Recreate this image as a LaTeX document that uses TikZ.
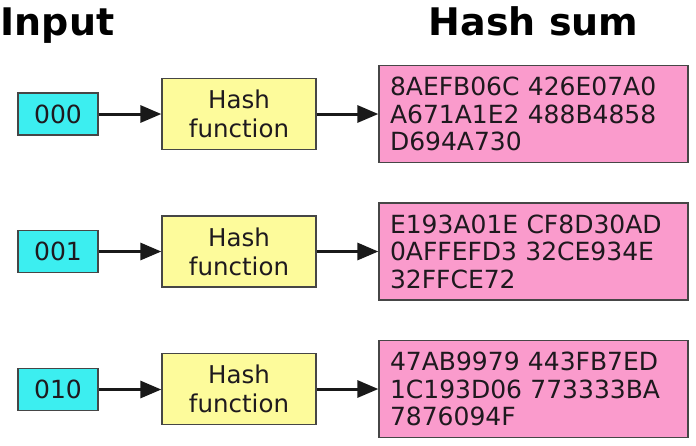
\documentclass[tikz,border=0pt]{standalone}
\usepackage{fontspec}
\setmainfont{DejaVu Sans}
\usetikzlibrary{arrows.meta}
\definecolor{incol}{RGB}{60,238,240}
\definecolor{fncol}{RGB}{253,251,155}
\definecolor{sumcol}{RGB}{250,155,204}
\definecolor{edgecol}{RGB}{70,70,70}
\definecolor{txtcol}{RGB}{30,25,30}
\tikzset{
  box/.style={draw=edgecol, line width=1.3pt, text=txtcol, inner sep=0pt},
  inbox/.style={box, fill=incol, minimum width=80pt, minimum height=42pt,
    font=\fontsize{25}{27.5}\selectfont},
  fnbox/.style={box, fill=fncol, minimum width=154pt, minimum height=71pt,
    align=center, font=\fontsize{24.5}{29}\selectfont},
  sumbox/.style={box, fill=sumcol, minimum width=309pt, minimum height=97pt,
    text width=287pt, align=left, inner xsep=11pt,
    font=\fontsize{25}{27.5}\selectfont},
  title/.style={inner sep=0pt, anchor=base west, font=\fontsize{38}{40}\selectfont\bfseries},
  arr/.style={draw=black!90, line width=3pt, -{Triangle[length=21pt,width=17pt]}}
}
\begin{document}
\begin{tikzpicture}[x=1pt,y=-1pt]
\useasboundingbox (0,0) rectangle (696,445);
\node[title] (tin) at (0.5,35) {Input};
\node[title] (tsum) at (428.5,35) {Hash sum};

\node[inbox] (i1) at (58,114) {000};
\node[fnbox] (f1) at (239,114) {Hash\\function};
\node[sumbox] (s1) at (533.5,114) {8AEFB06C 426E07A0\\A671A1E2 488B4858\\D694A730};

\node[inbox] (i2) at (58,251.5) {001};
\node[fnbox] (f2) at (239,251.5) {Hash\\function};
\node[sumbox] (s2) at (533.5,251.5) {E193A01E CF8D30AD\\0AFFEFD3 32CE934E\\32FFCE72};

\node[inbox] (i3) at (58,389.5) {010};
\node[fnbox] (f3) at (239,389) {Hash\\function};
\node[sumbox] (s3) at (533.5,389) {47AB9979 443FB7ED\\1C193D06 773333BA\\7876094F};

\foreach \r in {1,2,3}{
  \draw[arr] (i\r) -- (i\r -| f\r.west);
  \draw[arr] (f\r) -- (f\r -| s\r.west);
}
\end{tikzpicture}
\end{document}
